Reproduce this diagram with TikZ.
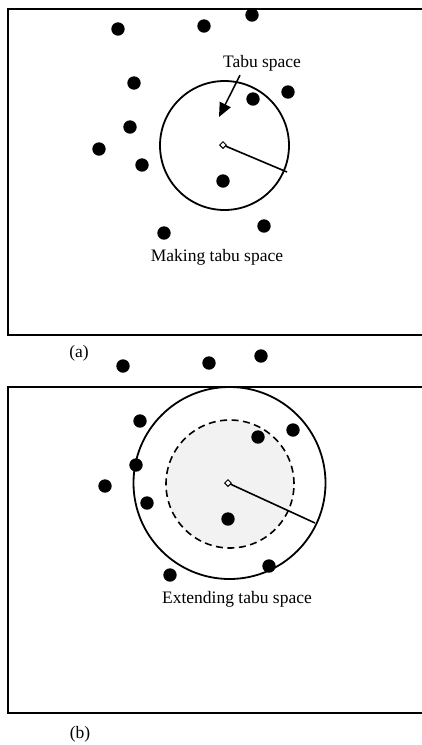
\documentclass[tikz,border=0pt]{standalone}
\usepackage{fontspec}
\setmainfont{Liberation Serif}
\usetikzlibrary{arrows.meta,shapes.geometric}

\begin{document}
\begin{tikzpicture}[
    x=1pt, y=-1pt,
    >={Triangle[length=14pt,width=12pt]},
    centre/.style={draw, diamond, fill=white, line width=1pt, inner sep=0pt, minimum size=7pt},
    label text/.style={font=\fontsize{17.5}{21}\selectfont, inner sep=0pt}
]

\useasboundingbox (0,0) rectangle (422,745);
\clip (0,0) rectangle (422,745);


% Marc (a)

\draw[
    line width=2.8pt
] (8,9) rectangle (460,335);


% Espai tabu

\draw[
    line width=1.8pt
] (224.5,145.5) circle[radius=64.5pt];

\node[centre] (ca) at (223,145) {};
\coordinate (ra) at (287,172);

\draw[
    line width=1.6pt
] (ca) -- (ra);


% Punts (a)

\foreach \x/\y in {118/29, 204/26, 252/15, 134/83, 288/92, 253/99,
                   130/127, 99/149, 142/165, 223/181, 264/226, 164/233,
                   123/366, 209/363, 261/356}
    \fill (\x,\y) circle[radius=6.7pt];


% Fletxa

\node[label text] (ts) at (262,63) {Tabu space};
\coordinate (ta) at (219,117);

\draw[
    ->,
    line width=1.5pt
] ([xshift=-22pt, yshift=-4pt]ts.south) -- (ta);

\node[label text] (mk) at (217,257) {Making tabu space};
\node[label text] (la) at (79,353) {(a)};


% Marc (b)

\draw[
    line width=2.8pt
] (8,387) rectangle (460,713);


% Espai ampliat

\draw[
    line width=1.8pt
] (229.5,483) circle[radius=96pt];

\draw[
    line width=1.6pt,
    dash pattern=on 7pt off 4.5pt,
    fill=black!5
] (230,484) circle[radius=64pt];

\node[centre] (cb) at (228,483) {};
\coordinate (rb) at (315,523);

\draw[
    line width=1.6pt
] (cb) -- (rb);


% Punts (b)

\foreach \x/\y in {140/421, 293/430, 258/437, 136/465, 105/486,
                   147/503, 228/519, 269/566, 170/575}
    \fill (\x,\y) circle[radius=6.7pt];

\node[label text] (ex) at (237,599) {Extending tabu space};
\node[label text] (lb) at (80,734) {(b)};

\end{tikzpicture}
\end{document}
